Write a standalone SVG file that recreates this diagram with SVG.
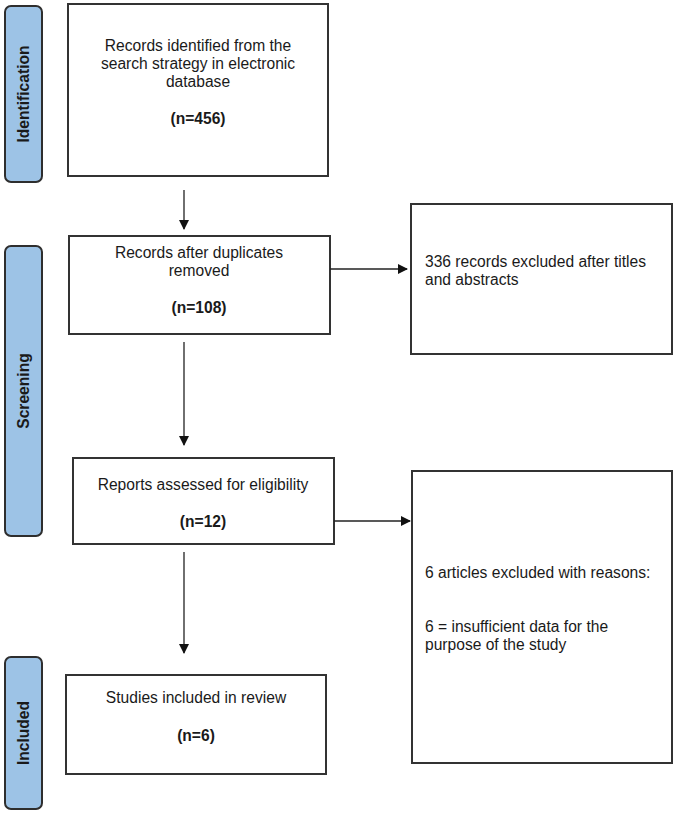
<svg xmlns="http://www.w3.org/2000/svg" width="676" height="813" viewBox="0 0 676 813">
<style>
.side{fill:#9dc3e6;stroke:#2e2e2e;stroke-width:2}
.box{fill:#fff;stroke:#333;stroke-width:2}
text{font-family:"Liberation Sans",Arial,sans-serif;font-size:15.6px;fill:#1a1a1a}
.c{text-anchor:middle}
.b{font-weight:bold}
.con{stroke:#222;stroke-width:1.3;fill:none}
</style>
<defs>
<marker id="ah" markerWidth="10" markerHeight="10" refX="9" refY="5" orient="auto" markerUnits="userSpaceOnUse">
<path d="M0,0 L10,5 L0,10 Z" fill="#111"/>
</marker>
</defs>
<rect width="676" height="813" fill="#fff"/>
<g id="phase-identification">
<rect class="side" x="5" y="6" width="37" height="176" rx="6"/>
<text class="c b" transform="translate(29,94) rotate(-90)">Identification</text>
</g>
<g id="phase-screening">
<rect class="side" x="5" y="246" width="37" height="290" rx="6"/>
<text class="c b" transform="translate(29,391) rotate(-90)">Screening</text>
</g>
<g id="phase-included">
<rect class="side" x="5" y="657" width="37" height="152" rx="6"/>
<text class="c b" transform="translate(29,733) rotate(-90)">Included</text>
</g>
<g id="identified">
<rect class="box" x="68" y="4" width="260" height="172"/>
<text class="c" x="198" y="51">Records identified from the</text>
<text class="c" x="198" y="69">search strategy in electronic</text>
<text class="c" x="198" y="87">database</text>
<text class="c b" x="198" y="124">(n=456)</text>
</g>
<g id="after-duplicates">
<rect class="box" x="69" y="236" width="261" height="98"/>
<text class="c" x="199" y="258">Records after duplicates</text>
<text class="c" x="199" y="276">removed</text>
<text class="c b" x="199" y="313">(n=108)</text>
</g>
<g id="excluded-titles">
<rect class="box" x="411" y="204" width="261" height="150"/>
<text x="425" y="267">336 records excluded after titles</text>
<text x="425" y="285">and abstracts</text>
</g>
<g id="assessed">
<rect class="box" x="73" y="458" width="261" height="86"/>
<text class="c" x="203" y="490">Reports assessed for eligibility</text>
<text class="c b" x="203" y="527">(n=12)</text>
</g>
<g id="excluded-reasons">
<rect class="box" x="412" y="471" width="260" height="292"/>
<text x="425" y="578">6 articles excluded with reasons:</text>
<text x="425" y="632">6 = insufficient data for the</text>
<text x="425" y="650">purpose of the study</text>
</g>
<g id="included">
<rect class="box" x="66" y="675" width="260" height="99"/>
<text class="c" x="196" y="703">Studies included in review</text>
<text class="c b" x="196" y="741">(n=6)</text>
</g>
<g id="connectors">
<line class="con" x1="184" y1="190" x2="184" y2="229" marker-end="url(#ah)"/>
<line class="con" x1="330" y1="269" x2="407" y2="269" marker-end="url(#ah)"/>
<line class="con" x1="184" y1="342" x2="184" y2="445" marker-end="url(#ah)"/>
<line class="con" x1="334" y1="521" x2="410" y2="521" marker-end="url(#ah)"/>
<line class="con" x1="184" y1="552" x2="184" y2="653" marker-end="url(#ah)"/>
</g>
</svg>
